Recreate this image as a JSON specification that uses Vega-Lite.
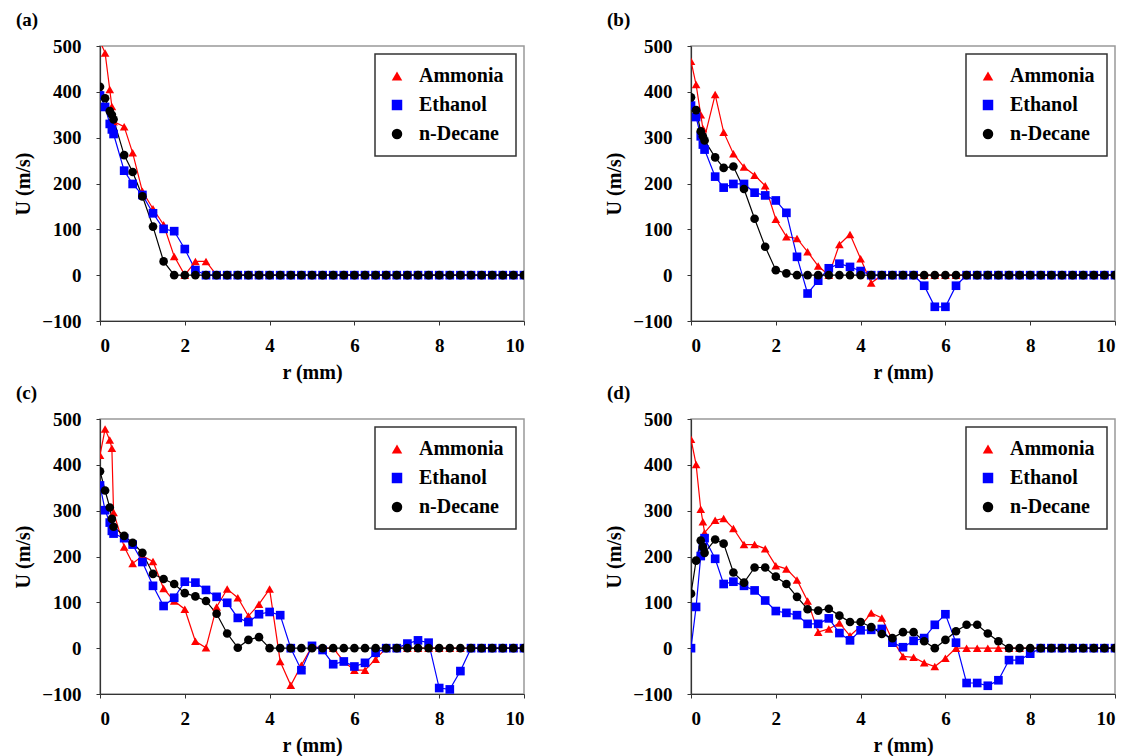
{
"$schema":"https://vega.github.io/schema/vega-lite/v6.json",
"padding":{"left":12,"top":10,"right":0,"bottom":0},
"background":"white",
"datasets":{"d":[
{"panel":"a","fluid":"Ammonia","r":0,"U":510},{"panel":"a","fluid":"Ammonia","r":0.12,"U":485},{"panel":"a","fluid":"Ammonia","r":0.23,"U":405},{"panel":"a","fluid":"Ammonia","r":0.28,"U":368},{"panel":"a","fluid":"Ammonia","r":0.32,"U":335},{"panel":"a","fluid":"Ammonia","r":0.57,"U":324},{"panel":"a","fluid":"Ammonia","r":0.77,"U":267},{"panel":"a","fluid":"Ammonia","r":1,"U":183},{"panel":"a","fluid":"Ammonia","r":1.25,"U":145},{"panel":"a","fluid":"Ammonia","r":1.5,"U":110},{"panel":"a","fluid":"Ammonia","r":1.75,"U":41},{"panel":"a","fluid":"Ammonia","r":2,"U":0},{"panel":"a","fluid":"Ammonia","r":2.25,"U":30},{"panel":"a","fluid":"Ammonia","r":2.5,"U":30},{"panel":"a","fluid":"Ammonia","r":2.75,"U":0},{"panel":"a","fluid":"Ammonia","r":3,"U":0},{"panel":"a","fluid":"Ammonia","r":3.25,"U":0},{"panel":"a","fluid":"Ammonia","r":3.5,"U":0},{"panel":"a","fluid":"Ammonia","r":3.75,"U":0},{"panel":"a","fluid":"Ammonia","r":4,"U":0},{"panel":"a","fluid":"Ammonia","r":4.25,"U":0},{"panel":"a","fluid":"Ammonia","r":4.5,"U":0},{"panel":"a","fluid":"Ammonia","r":4.75,"U":0},{"panel":"a","fluid":"Ammonia","r":5,"U":0},{"panel":"a","fluid":"Ammonia","r":5.25,"U":0},{"panel":"a","fluid":"Ammonia","r":5.5,"U":0},{"panel":"a","fluid":"Ammonia","r":5.75,"U":0},{"panel":"a","fluid":"Ammonia","r":6,"U":0},{"panel":"a","fluid":"Ammonia","r":6.25,"U":0},{"panel":"a","fluid":"Ammonia","r":6.5,"U":0},{"panel":"a","fluid":"Ammonia","r":6.75,"U":0},{"panel":"a","fluid":"Ammonia","r":7,"U":0},{"panel":"a","fluid":"Ammonia","r":7.25,"U":0},{"panel":"a","fluid":"Ammonia","r":7.5,"U":0},{"panel":"a","fluid":"Ammonia","r":7.75,"U":0},{"panel":"a","fluid":"Ammonia","r":8,"U":0},{"panel":"a","fluid":"Ammonia","r":8.25,"U":0},{"panel":"a","fluid":"Ammonia","r":8.5,"U":0},{"panel":"a","fluid":"Ammonia","r":8.75,"U":0},{"panel":"a","fluid":"Ammonia","r":9,"U":0},{"panel":"a","fluid":"Ammonia","r":9.25,"U":0},{"panel":"a","fluid":"Ammonia","r":9.5,"U":0},{"panel":"a","fluid":"Ammonia","r":9.75,"U":0},{"panel":"a","fluid":"Ammonia","r":10,"U":0},
{"panel":"a","fluid":"Ethanol","r":0,"U":392},{"panel":"a","fluid":"Ethanol","r":0.12,"U":367},{"panel":"a","fluid":"Ethanol","r":0.23,"U":330},{"panel":"a","fluid":"Ethanol","r":0.28,"U":318},{"panel":"a","fluid":"Ethanol","r":0.32,"U":308},{"panel":"a","fluid":"Ethanol","r":0.57,"U":228},{"panel":"a","fluid":"Ethanol","r":0.77,"U":199},{"panel":"a","fluid":"Ethanol","r":1,"U":175},{"panel":"a","fluid":"Ethanol","r":1.25,"U":135},{"panel":"a","fluid":"Ethanol","r":1.5,"U":101},{"panel":"a","fluid":"Ethanol","r":1.75,"U":96},{"panel":"a","fluid":"Ethanol","r":2,"U":57},{"panel":"a","fluid":"Ethanol","r":2.25,"U":11},{"panel":"a","fluid":"Ethanol","r":2.5,"U":0},{"panel":"a","fluid":"Ethanol","r":2.75,"U":0},{"panel":"a","fluid":"Ethanol","r":3,"U":0},{"panel":"a","fluid":"Ethanol","r":3.25,"U":0},{"panel":"a","fluid":"Ethanol","r":3.5,"U":0},{"panel":"a","fluid":"Ethanol","r":3.75,"U":0},{"panel":"a","fluid":"Ethanol","r":4,"U":0},{"panel":"a","fluid":"Ethanol","r":4.25,"U":0},{"panel":"a","fluid":"Ethanol","r":4.5,"U":0},{"panel":"a","fluid":"Ethanol","r":4.75,"U":0},{"panel":"a","fluid":"Ethanol","r":5,"U":0},{"panel":"a","fluid":"Ethanol","r":5.25,"U":0},{"panel":"a","fluid":"Ethanol","r":5.5,"U":0},{"panel":"a","fluid":"Ethanol","r":5.75,"U":0},{"panel":"a","fluid":"Ethanol","r":6,"U":0},{"panel":"a","fluid":"Ethanol","r":6.25,"U":0},{"panel":"a","fluid":"Ethanol","r":6.5,"U":0},{"panel":"a","fluid":"Ethanol","r":6.75,"U":0},{"panel":"a","fluid":"Ethanol","r":7,"U":0},{"panel":"a","fluid":"Ethanol","r":7.25,"U":0},{"panel":"a","fluid":"Ethanol","r":7.5,"U":0},{"panel":"a","fluid":"Ethanol","r":7.75,"U":0},{"panel":"a","fluid":"Ethanol","r":8,"U":0},{"panel":"a","fluid":"Ethanol","r":8.25,"U":0},{"panel":"a","fluid":"Ethanol","r":8.5,"U":0},{"panel":"a","fluid":"Ethanol","r":8.75,"U":0},{"panel":"a","fluid":"Ethanol","r":9,"U":0},{"panel":"a","fluid":"Ethanol","r":9.25,"U":0},{"panel":"a","fluid":"Ethanol","r":9.5,"U":0},{"panel":"a","fluid":"Ethanol","r":9.75,"U":0},{"panel":"a","fluid":"Ethanol","r":10,"U":0},
{"panel":"a","fluid":"n-Decane","r":0,"U":411},{"panel":"a","fluid":"n-Decane","r":0.12,"U":386},{"panel":"a","fluid":"n-Decane","r":0.23,"U":358},{"panel":"a","fluid":"n-Decane","r":0.28,"U":350},{"panel":"a","fluid":"n-Decane","r":0.32,"U":340},{"panel":"a","fluid":"n-Decane","r":0.57,"U":262},{"panel":"a","fluid":"n-Decane","r":0.77,"U":225},{"panel":"a","fluid":"n-Decane","r":1,"U":172},{"panel":"a","fluid":"n-Decane","r":1.25,"U":106},{"panel":"a","fluid":"n-Decane","r":1.5,"U":30},{"panel":"a","fluid":"n-Decane","r":1.75,"U":0},{"panel":"a","fluid":"n-Decane","r":2,"U":0},{"panel":"a","fluid":"n-Decane","r":2.25,"U":0},{"panel":"a","fluid":"n-Decane","r":2.5,"U":0},{"panel":"a","fluid":"n-Decane","r":2.75,"U":0},{"panel":"a","fluid":"n-Decane","r":3,"U":0},{"panel":"a","fluid":"n-Decane","r":3.25,"U":0},{"panel":"a","fluid":"n-Decane","r":3.5,"U":0},{"panel":"a","fluid":"n-Decane","r":3.75,"U":0},{"panel":"a","fluid":"n-Decane","r":4,"U":0},{"panel":"a","fluid":"n-Decane","r":4.25,"U":0},{"panel":"a","fluid":"n-Decane","r":4.5,"U":0},{"panel":"a","fluid":"n-Decane","r":4.75,"U":0},{"panel":"a","fluid":"n-Decane","r":5,"U":0},{"panel":"a","fluid":"n-Decane","r":5.25,"U":0},{"panel":"a","fluid":"n-Decane","r":5.5,"U":0},{"panel":"a","fluid":"n-Decane","r":5.75,"U":0},{"panel":"a","fluid":"n-Decane","r":6,"U":0},{"panel":"a","fluid":"n-Decane","r":6.25,"U":0},{"panel":"a","fluid":"n-Decane","r":6.5,"U":0},{"panel":"a","fluid":"n-Decane","r":6.75,"U":0},{"panel":"a","fluid":"n-Decane","r":7,"U":0},{"panel":"a","fluid":"n-Decane","r":7.25,"U":0},{"panel":"a","fluid":"n-Decane","r":7.5,"U":0},{"panel":"a","fluid":"n-Decane","r":7.75,"U":0},{"panel":"a","fluid":"n-Decane","r":8,"U":0},{"panel":"a","fluid":"n-Decane","r":8.25,"U":0},{"panel":"a","fluid":"n-Decane","r":8.5,"U":0},{"panel":"a","fluid":"n-Decane","r":8.75,"U":0},{"panel":"a","fluid":"n-Decane","r":9,"U":0},{"panel":"a","fluid":"n-Decane","r":9.25,"U":0},{"panel":"a","fluid":"n-Decane","r":9.5,"U":0},{"panel":"a","fluid":"n-Decane","r":9.75,"U":0},{"panel":"a","fluid":"n-Decane","r":10,"U":0},
{"panel":"b","fluid":"Ammonia","r":0,"U":467},{"panel":"b","fluid":"Ammonia","r":0.12,"U":416},{"panel":"b","fluid":"Ammonia","r":0.23,"U":350},{"panel":"b","fluid":"Ammonia","r":0.28,"U":320},{"panel":"b","fluid":"Ammonia","r":0.32,"U":300},{"panel":"b","fluid":"Ammonia","r":0.57,"U":394},{"panel":"b","fluid":"Ammonia","r":0.77,"U":312},{"panel":"b","fluid":"Ammonia","r":1,"U":265},{"panel":"b","fluid":"Ammonia","r":1.25,"U":236},{"panel":"b","fluid":"Ammonia","r":1.5,"U":218},{"panel":"b","fluid":"Ammonia","r":1.75,"U":195},{"panel":"b","fluid":"Ammonia","r":2,"U":122},{"panel":"b","fluid":"Ammonia","r":2.25,"U":84},{"panel":"b","fluid":"Ammonia","r":2.5,"U":80},{"panel":"b","fluid":"Ammonia","r":2.75,"U":51},{"panel":"b","fluid":"Ammonia","r":3,"U":20},{"panel":"b","fluid":"Ammonia","r":3.25,"U":0},{"panel":"b","fluid":"Ammonia","r":3.5,"U":67},{"panel":"b","fluid":"Ammonia","r":3.75,"U":89},{"panel":"b","fluid":"Ammonia","r":4,"U":36},{"panel":"b","fluid":"Ammonia","r":4.25,"U":-17},{"panel":"b","fluid":"Ammonia","r":4.5,"U":0},{"panel":"b","fluid":"Ammonia","r":4.75,"U":0},{"panel":"b","fluid":"Ammonia","r":5,"U":0},{"panel":"b","fluid":"Ammonia","r":5.25,"U":0},{"panel":"b","fluid":"Ammonia","r":5.5,"U":0},{"panel":"b","fluid":"Ammonia","r":5.75,"U":0},{"panel":"b","fluid":"Ammonia","r":6,"U":0},{"panel":"b","fluid":"Ammonia","r":6.25,"U":0},{"panel":"b","fluid":"Ammonia","r":6.5,"U":0},{"panel":"b","fluid":"Ammonia","r":6.75,"U":0},{"panel":"b","fluid":"Ammonia","r":7,"U":0},{"panel":"b","fluid":"Ammonia","r":7.25,"U":0},{"panel":"b","fluid":"Ammonia","r":7.5,"U":0},{"panel":"b","fluid":"Ammonia","r":7.75,"U":0},{"panel":"b","fluid":"Ammonia","r":8,"U":0},{"panel":"b","fluid":"Ammonia","r":8.25,"U":0},{"panel":"b","fluid":"Ammonia","r":8.5,"U":0},{"panel":"b","fluid":"Ammonia","r":8.75,"U":0},{"panel":"b","fluid":"Ammonia","r":9,"U":0},{"panel":"b","fluid":"Ammonia","r":9.25,"U":0},{"panel":"b","fluid":"Ammonia","r":9.5,"U":0},{"panel":"b","fluid":"Ammonia","r":9.75,"U":0},{"panel":"b","fluid":"Ammonia","r":10,"U":0},
{"panel":"b","fluid":"Ethanol","r":0,"U":370},{"panel":"b","fluid":"Ethanol","r":0.12,"U":345},{"panel":"b","fluid":"Ethanol","r":0.23,"U":303},{"panel":"b","fluid":"Ethanol","r":0.28,"U":285},{"panel":"b","fluid":"Ethanol","r":0.32,"U":274},{"panel":"b","fluid":"Ethanol","r":0.57,"U":215},{"panel":"b","fluid":"Ethanol","r":0.77,"U":191},{"panel":"b","fluid":"Ethanol","r":1,"U":199},{"panel":"b","fluid":"Ethanol","r":1.25,"U":199},{"panel":"b","fluid":"Ethanol","r":1.5,"U":180},{"panel":"b","fluid":"Ethanol","r":1.75,"U":174},{"panel":"b","fluid":"Ethanol","r":2,"U":163},{"panel":"b","fluid":"Ethanol","r":2.25,"U":136},{"panel":"b","fluid":"Ethanol","r":2.5,"U":40},{"panel":"b","fluid":"Ethanol","r":2.75,"U":-40},{"panel":"b","fluid":"Ethanol","r":3,"U":-12},{"panel":"b","fluid":"Ethanol","r":3.25,"U":15},{"panel":"b","fluid":"Ethanol","r":3.5,"U":25},{"panel":"b","fluid":"Ethanol","r":3.75,"U":18},{"panel":"b","fluid":"Ethanol","r":4,"U":9},{"panel":"b","fluid":"Ethanol","r":4.25,"U":0},{"panel":"b","fluid":"Ethanol","r":4.5,"U":0},{"panel":"b","fluid":"Ethanol","r":4.75,"U":0},{"panel":"b","fluid":"Ethanol","r":5,"U":0},{"panel":"b","fluid":"Ethanol","r":5.25,"U":0},{"panel":"b","fluid":"Ethanol","r":5.5,"U":-23},{"panel":"b","fluid":"Ethanol","r":5.75,"U":-69},{"panel":"b","fluid":"Ethanol","r":6,"U":-69},{"panel":"b","fluid":"Ethanol","r":6.25,"U":-23},{"panel":"b","fluid":"Ethanol","r":6.5,"U":0},{"panel":"b","fluid":"Ethanol","r":6.75,"U":0},{"panel":"b","fluid":"Ethanol","r":7,"U":0},{"panel":"b","fluid":"Ethanol","r":7.25,"U":0},{"panel":"b","fluid":"Ethanol","r":7.5,"U":0},{"panel":"b","fluid":"Ethanol","r":7.75,"U":0},{"panel":"b","fluid":"Ethanol","r":8,"U":0},{"panel":"b","fluid":"Ethanol","r":8.25,"U":0},{"panel":"b","fluid":"Ethanol","r":8.5,"U":0},{"panel":"b","fluid":"Ethanol","r":8.75,"U":0},{"panel":"b","fluid":"Ethanol","r":9,"U":0},{"panel":"b","fluid":"Ethanol","r":9.25,"U":0},{"panel":"b","fluid":"Ethanol","r":9.5,"U":0},{"panel":"b","fluid":"Ethanol","r":9.75,"U":0},{"panel":"b","fluid":"Ethanol","r":10,"U":0},
{"panel":"b","fluid":"n-Decane","r":0,"U":388},{"panel":"b","fluid":"n-Decane","r":0.12,"U":360},{"panel":"b","fluid":"n-Decane","r":0.23,"U":314},{"panel":"b","fluid":"n-Decane","r":0.28,"U":303},{"panel":"b","fluid":"n-Decane","r":0.32,"U":294},{"panel":"b","fluid":"n-Decane","r":0.57,"U":257},{"panel":"b","fluid":"n-Decane","r":0.77,"U":234},{"panel":"b","fluid":"n-Decane","r":1,"U":237},{"panel":"b","fluid":"n-Decane","r":1.25,"U":188},{"panel":"b","fluid":"n-Decane","r":1.5,"U":123},{"panel":"b","fluid":"n-Decane","r":1.75,"U":62},{"panel":"b","fluid":"n-Decane","r":2,"U":11},{"panel":"b","fluid":"n-Decane","r":2.25,"U":4},{"panel":"b","fluid":"n-Decane","r":2.5,"U":0},{"panel":"b","fluid":"n-Decane","r":2.75,"U":0},{"panel":"b","fluid":"n-Decane","r":3,"U":0},{"panel":"b","fluid":"n-Decane","r":3.25,"U":0},{"panel":"b","fluid":"n-Decane","r":3.5,"U":0},{"panel":"b","fluid":"n-Decane","r":3.75,"U":0},{"panel":"b","fluid":"n-Decane","r":4,"U":0},{"panel":"b","fluid":"n-Decane","r":4.25,"U":0},{"panel":"b","fluid":"n-Decane","r":4.5,"U":0},{"panel":"b","fluid":"n-Decane","r":4.75,"U":0},{"panel":"b","fluid":"n-Decane","r":5,"U":0},{"panel":"b","fluid":"n-Decane","r":5.25,"U":0},{"panel":"b","fluid":"n-Decane","r":5.5,"U":0},{"panel":"b","fluid":"n-Decane","r":5.75,"U":0},{"panel":"b","fluid":"n-Decane","r":6,"U":0},{"panel":"b","fluid":"n-Decane","r":6.25,"U":0},{"panel":"b","fluid":"n-Decane","r":6.5,"U":0},{"panel":"b","fluid":"n-Decane","r":6.75,"U":0},{"panel":"b","fluid":"n-Decane","r":7,"U":0},{"panel":"b","fluid":"n-Decane","r":7.25,"U":0},{"panel":"b","fluid":"n-Decane","r":7.5,"U":0},{"panel":"b","fluid":"n-Decane","r":7.75,"U":0},{"panel":"b","fluid":"n-Decane","r":8,"U":0},{"panel":"b","fluid":"n-Decane","r":8.25,"U":0},{"panel":"b","fluid":"n-Decane","r":8.5,"U":0},{"panel":"b","fluid":"n-Decane","r":8.75,"U":0},{"panel":"b","fluid":"n-Decane","r":9,"U":0},{"panel":"b","fluid":"n-Decane","r":9.25,"U":0},{"panel":"b","fluid":"n-Decane","r":9.5,"U":0},{"panel":"b","fluid":"n-Decane","r":9.75,"U":0},{"panel":"b","fluid":"n-Decane","r":10,"U":0},
{"panel":"c","fluid":"Ammonia","r":0,"U":421},{"panel":"c","fluid":"Ammonia","r":0.12,"U":478},{"panel":"c","fluid":"Ammonia","r":0.23,"U":454},{"panel":"c","fluid":"Ammonia","r":0.28,"U":436},{"panel":"c","fluid":"Ammonia","r":0.32,"U":296},{"panel":"c","fluid":"Ammonia","r":0.57,"U":221},{"panel":"c","fluid":"Ammonia","r":0.77,"U":185},{"panel":"c","fluid":"Ammonia","r":1,"U":201},{"panel":"c","fluid":"Ammonia","r":1.25,"U":189},{"panel":"c","fluid":"Ammonia","r":1.5,"U":130},{"panel":"c","fluid":"Ammonia","r":1.75,"U":103},{"panel":"c","fluid":"Ammonia","r":2,"U":85},{"panel":"c","fluid":"Ammonia","r":2.25,"U":15},{"panel":"c","fluid":"Ammonia","r":2.5,"U":1},{"panel":"c","fluid":"Ammonia","r":2.75,"U":90},{"panel":"c","fluid":"Ammonia","r":3,"U":129},{"panel":"c","fluid":"Ammonia","r":3.25,"U":110},{"panel":"c","fluid":"Ammonia","r":3.5,"U":70},{"panel":"c","fluid":"Ammonia","r":3.75,"U":96},{"panel":"c","fluid":"Ammonia","r":4,"U":129},{"panel":"c","fluid":"Ammonia","r":4.25,"U":-29},{"panel":"c","fluid":"Ammonia","r":4.5,"U":-81},{"panel":"c","fluid":"Ammonia","r":4.75,"U":-37},{"panel":"c","fluid":"Ammonia","r":5,"U":4},{"panel":"c","fluid":"Ammonia","r":5.25,"U":0},{"panel":"c","fluid":"Ammonia","r":5.5,"U":0},{"panel":"c","fluid":"Ammonia","r":5.75,"U":-29},{"panel":"c","fluid":"Ammonia","r":6,"U":-48},{"panel":"c","fluid":"Ammonia","r":6.25,"U":-48},{"panel":"c","fluid":"Ammonia","r":6.5,"U":-24},{"panel":"c","fluid":"Ammonia","r":6.75,"U":0},{"panel":"c","fluid":"Ammonia","r":7,"U":0},{"panel":"c","fluid":"Ammonia","r":7.25,"U":0},{"panel":"c","fluid":"Ammonia","r":7.5,"U":0},{"panel":"c","fluid":"Ammonia","r":7.75,"U":0},{"panel":"c","fluid":"Ammonia","r":8,"U":0},{"panel":"c","fluid":"Ammonia","r":8.25,"U":0},{"panel":"c","fluid":"Ammonia","r":8.5,"U":0},{"panel":"c","fluid":"Ammonia","r":8.75,"U":0},{"panel":"c","fluid":"Ammonia","r":9,"U":0},{"panel":"c","fluid":"Ammonia","r":9.25,"U":0},{"panel":"c","fluid":"Ammonia","r":9.5,"U":0},{"panel":"c","fluid":"Ammonia","r":9.75,"U":0},{"panel":"c","fluid":"Ammonia","r":10,"U":0},
{"panel":"c","fluid":"Ethanol","r":0,"U":355},{"panel":"c","fluid":"Ethanol","r":0.12,"U":301},{"panel":"c","fluid":"Ethanol","r":0.23,"U":274},{"panel":"c","fluid":"Ethanol","r":0.28,"U":256},{"panel":"c","fluid":"Ethanol","r":0.32,"U":250},{"panel":"c","fluid":"Ethanol","r":0.57,"U":240},{"panel":"c","fluid":"Ethanol","r":0.77,"U":226},{"panel":"c","fluid":"Ethanol","r":1,"U":188},{"panel":"c","fluid":"Ethanol","r":1.25,"U":136},{"panel":"c","fluid":"Ethanol","r":1.5,"U":92},{"panel":"c","fluid":"Ethanol","r":1.75,"U":110},{"panel":"c","fluid":"Ethanol","r":2,"U":145},{"panel":"c","fluid":"Ethanol","r":2.25,"U":143},{"panel":"c","fluid":"Ethanol","r":2.5,"U":127},{"panel":"c","fluid":"Ethanol","r":2.75,"U":112},{"panel":"c","fluid":"Ethanol","r":3,"U":99},{"panel":"c","fluid":"Ethanol","r":3.25,"U":66},{"panel":"c","fluid":"Ethanol","r":3.5,"U":57},{"panel":"c","fluid":"Ethanol","r":3.75,"U":74},{"panel":"c","fluid":"Ethanol","r":4,"U":79},{"panel":"c","fluid":"Ethanol","r":4.25,"U":72},{"panel":"c","fluid":"Ethanol","r":4.5,"U":0},{"panel":"c","fluid":"Ethanol","r":4.75,"U":-48},{"panel":"c","fluid":"Ethanol","r":5,"U":5},{"panel":"c","fluid":"Ethanol","r":5.25,"U":-4},{"panel":"c","fluid":"Ethanol","r":5.5,"U":-35},{"panel":"c","fluid":"Ethanol","r":5.75,"U":-29},{"panel":"c","fluid":"Ethanol","r":6,"U":-40},{"panel":"c","fluid":"Ethanol","r":6.25,"U":-32},{"panel":"c","fluid":"Ethanol","r":6.5,"U":-10},{"panel":"c","fluid":"Ethanol","r":6.75,"U":0},{"panel":"c","fluid":"Ethanol","r":7,"U":0},{"panel":"c","fluid":"Ethanol","r":7.25,"U":10},{"panel":"c","fluid":"Ethanol","r":7.5,"U":17},{"panel":"c","fluid":"Ethanol","r":7.75,"U":12},{"panel":"c","fluid":"Ethanol","r":8,"U":-87},{"panel":"c","fluid":"Ethanol","r":8.25,"U":-90},{"panel":"c","fluid":"Ethanol","r":8.5,"U":-50},{"panel":"c","fluid":"Ethanol","r":8.75,"U":0},{"panel":"c","fluid":"Ethanol","r":9,"U":0},{"panel":"c","fluid":"Ethanol","r":9.25,"U":0},{"panel":"c","fluid":"Ethanol","r":9.5,"U":0},{"panel":"c","fluid":"Ethanol","r":9.75,"U":0},{"panel":"c","fluid":"Ethanol","r":10,"U":0},
{"panel":"c","fluid":"n-Decane","r":0,"U":386},{"panel":"c","fluid":"n-Decane","r":0.12,"U":344},{"panel":"c","fluid":"n-Decane","r":0.23,"U":307},{"panel":"c","fluid":"n-Decane","r":0.28,"U":282},{"panel":"c","fluid":"n-Decane","r":0.32,"U":265},{"panel":"c","fluid":"n-Decane","r":0.57,"U":245},{"panel":"c","fluid":"n-Decane","r":0.77,"U":230},{"panel":"c","fluid":"n-Decane","r":1,"U":208},{"panel":"c","fluid":"n-Decane","r":1.25,"U":162},{"panel":"c","fluid":"n-Decane","r":1.5,"U":151},{"panel":"c","fluid":"n-Decane","r":1.75,"U":140},{"panel":"c","fluid":"n-Decane","r":2,"U":120},{"panel":"c","fluid":"n-Decane","r":2.25,"U":113},{"panel":"c","fluid":"n-Decane","r":2.5,"U":103},{"panel":"c","fluid":"n-Decane","r":2.75,"U":75},{"panel":"c","fluid":"n-Decane","r":3,"U":32},{"panel":"c","fluid":"n-Decane","r":3.25,"U":1},{"panel":"c","fluid":"n-Decane","r":3.5,"U":18},{"panel":"c","fluid":"n-Decane","r":3.75,"U":24},{"panel":"c","fluid":"n-Decane","r":4,"U":0},{"panel":"c","fluid":"n-Decane","r":4.25,"U":0},{"panel":"c","fluid":"n-Decane","r":4.5,"U":0},{"panel":"c","fluid":"n-Decane","r":4.75,"U":0},{"panel":"c","fluid":"n-Decane","r":5,"U":0},{"panel":"c","fluid":"n-Decane","r":5.25,"U":0},{"panel":"c","fluid":"n-Decane","r":5.5,"U":0},{"panel":"c","fluid":"n-Decane","r":5.75,"U":0},{"panel":"c","fluid":"n-Decane","r":6,"U":0},{"panel":"c","fluid":"n-Decane","r":6.25,"U":0},{"panel":"c","fluid":"n-Decane","r":6.5,"U":0},{"panel":"c","fluid":"n-Decane","r":6.75,"U":0},{"panel":"c","fluid":"n-Decane","r":7,"U":0},{"panel":"c","fluid":"n-Decane","r":7.25,"U":0},{"panel":"c","fluid":"n-Decane","r":7.5,"U":0},{"panel":"c","fluid":"n-Decane","r":7.75,"U":0},{"panel":"c","fluid":"n-Decane","r":8,"U":0},{"panel":"c","fluid":"n-Decane","r":8.25,"U":0},{"panel":"c","fluid":"n-Decane","r":8.5,"U":0},{"panel":"c","fluid":"n-Decane","r":8.75,"U":0},{"panel":"c","fluid":"n-Decane","r":9,"U":0},{"panel":"c","fluid":"n-Decane","r":9.25,"U":0},{"panel":"c","fluid":"n-Decane","r":9.5,"U":0},{"panel":"c","fluid":"n-Decane","r":9.75,"U":0},{"panel":"c","fluid":"n-Decane","r":10,"U":0},
{"panel":"d","fluid":"Ammonia","r":0,"U":456},{"panel":"d","fluid":"Ammonia","r":0.12,"U":401},{"panel":"d","fluid":"Ammonia","r":0.23,"U":303},{"panel":"d","fluid":"Ammonia","r":0.28,"U":276},{"panel":"d","fluid":"Ammonia","r":0.32,"U":252},{"panel":"d","fluid":"Ammonia","r":0.57,"U":279},{"panel":"d","fluid":"Ammonia","r":0.77,"U":283},{"panel":"d","fluid":"Ammonia","r":1,"U":261},{"panel":"d","fluid":"Ammonia","r":1.25,"U":226},{"panel":"d","fluid":"Ammonia","r":1.5,"U":226},{"panel":"d","fluid":"Ammonia","r":1.75,"U":217},{"panel":"d","fluid":"Ammonia","r":2,"U":180},{"panel":"d","fluid":"Ammonia","r":2.25,"U":173},{"panel":"d","fluid":"Ammonia","r":2.5,"U":149},{"panel":"d","fluid":"Ammonia","r":2.75,"U":103},{"panel":"d","fluid":"Ammonia","r":3,"U":35},{"panel":"d","fluid":"Ammonia","r":3.25,"U":42},{"panel":"d","fluid":"Ammonia","r":3.5,"U":55},{"panel":"d","fluid":"Ammonia","r":3.75,"U":27},{"panel":"d","fluid":"Ammonia","r":4,"U":48},{"panel":"d","fluid":"Ammonia","r":4.25,"U":77},{"panel":"d","fluid":"Ammonia","r":4.5,"U":66},{"panel":"d","fluid":"Ammonia","r":4.75,"U":18},{"panel":"d","fluid":"Ammonia","r":5,"U":-18},{"panel":"d","fluid":"Ammonia","r":5.25,"U":-20},{"panel":"d","fluid":"Ammonia","r":5.5,"U":-32},{"panel":"d","fluid":"Ammonia","r":5.75,"U":-40},{"panel":"d","fluid":"Ammonia","r":6,"U":-22},{"panel":"d","fluid":"Ammonia","r":6.25,"U":0},{"panel":"d","fluid":"Ammonia","r":6.5,"U":0},{"panel":"d","fluid":"Ammonia","r":6.75,"U":0},{"panel":"d","fluid":"Ammonia","r":7,"U":0},{"panel":"d","fluid":"Ammonia","r":7.25,"U":0},{"panel":"d","fluid":"Ammonia","r":7.5,"U":0},{"panel":"d","fluid":"Ammonia","r":7.75,"U":0},{"panel":"d","fluid":"Ammonia","r":8,"U":0},{"panel":"d","fluid":"Ammonia","r":8.25,"U":0},{"panel":"d","fluid":"Ammonia","r":8.5,"U":0},{"panel":"d","fluid":"Ammonia","r":8.75,"U":0},{"panel":"d","fluid":"Ammonia","r":9,"U":0},{"panel":"d","fluid":"Ammonia","r":9.25,"U":0},{"panel":"d","fluid":"Ammonia","r":9.5,"U":0},{"panel":"d","fluid":"Ammonia","r":9.75,"U":0},{"panel":"d","fluid":"Ammonia","r":10,"U":0},
{"panel":"d","fluid":"Ethanol","r":0,"U":0},{"panel":"d","fluid":"Ethanol","r":0.12,"U":90},{"panel":"d","fluid":"Ethanol","r":0.23,"U":201},{"panel":"d","fluid":"Ethanol","r":0.28,"U":220},{"panel":"d","fluid":"Ethanol","r":0.32,"U":240},{"panel":"d","fluid":"Ethanol","r":0.57,"U":195},{"panel":"d","fluid":"Ethanol","r":0.77,"U":140},{"panel":"d","fluid":"Ethanol","r":1,"U":145},{"panel":"d","fluid":"Ethanol","r":1.25,"U":136},{"panel":"d","fluid":"Ethanol","r":1.5,"U":126},{"panel":"d","fluid":"Ethanol","r":1.75,"U":104},{"panel":"d","fluid":"Ethanol","r":2,"U":81},{"panel":"d","fluid":"Ethanol","r":2.25,"U":77},{"panel":"d","fluid":"Ethanol","r":2.5,"U":72},{"panel":"d","fluid":"Ethanol","r":2.75,"U":53},{"panel":"d","fluid":"Ethanol","r":3,"U":53},{"panel":"d","fluid":"Ethanol","r":3.25,"U":65},{"panel":"d","fluid":"Ethanol","r":3.5,"U":33},{"panel":"d","fluid":"Ethanol","r":3.75,"U":17},{"panel":"d","fluid":"Ethanol","r":4,"U":39},{"panel":"d","fluid":"Ethanol","r":4.25,"U":40},{"panel":"d","fluid":"Ethanol","r":4.5,"U":42},{"panel":"d","fluid":"Ethanol","r":4.75,"U":12},{"panel":"d","fluid":"Ethanol","r":5,"U":2},{"panel":"d","fluid":"Ethanol","r":5.25,"U":16},{"panel":"d","fluid":"Ethanol","r":5.5,"U":22},{"panel":"d","fluid":"Ethanol","r":5.75,"U":51},{"panel":"d","fluid":"Ethanol","r":6,"U":74},{"panel":"d","fluid":"Ethanol","r":6.25,"U":12},{"panel":"d","fluid":"Ethanol","r":6.5,"U":-76},{"panel":"d","fluid":"Ethanol","r":6.75,"U":-76},{"panel":"d","fluid":"Ethanol","r":7,"U":-82},{"panel":"d","fluid":"Ethanol","r":7.25,"U":-70},{"panel":"d","fluid":"Ethanol","r":7.5,"U":-26},{"panel":"d","fluid":"Ethanol","r":7.75,"U":-26},{"panel":"d","fluid":"Ethanol","r":8,"U":-12},{"panel":"d","fluid":"Ethanol","r":8.25,"U":0},{"panel":"d","fluid":"Ethanol","r":8.5,"U":0},{"panel":"d","fluid":"Ethanol","r":8.75,"U":0},{"panel":"d","fluid":"Ethanol","r":9,"U":0},{"panel":"d","fluid":"Ethanol","r":9.25,"U":0},{"panel":"d","fluid":"Ethanol","r":9.5,"U":0},{"panel":"d","fluid":"Ethanol","r":9.75,"U":0},{"panel":"d","fluid":"Ethanol","r":10,"U":0},
{"panel":"d","fluid":"n-Decane","r":0,"U":119},{"panel":"d","fluid":"n-Decane","r":0.12,"U":191},{"panel":"d","fluid":"n-Decane","r":0.23,"U":235},{"panel":"d","fluid":"n-Decane","r":0.28,"U":221},{"panel":"d","fluid":"n-Decane","r":0.32,"U":208},{"panel":"d","fluid":"n-Decane","r":0.57,"U":237},{"panel":"d","fluid":"n-Decane","r":0.77,"U":228},{"panel":"d","fluid":"n-Decane","r":1,"U":165},{"panel":"d","fluid":"n-Decane","r":1.25,"U":143},{"panel":"d","fluid":"n-Decane","r":1.5,"U":176},{"panel":"d","fluid":"n-Decane","r":1.75,"U":176},{"panel":"d","fluid":"n-Decane","r":2,"U":156},{"panel":"d","fluid":"n-Decane","r":2.25,"U":140},{"panel":"d","fluid":"n-Decane","r":2.5,"U":112},{"panel":"d","fluid":"n-Decane","r":2.75,"U":85},{"panel":"d","fluid":"n-Decane","r":3,"U":82},{"panel":"d","fluid":"n-Decane","r":3.25,"U":86},{"panel":"d","fluid":"n-Decane","r":3.5,"U":71},{"panel":"d","fluid":"n-Decane","r":3.75,"U":57},{"panel":"d","fluid":"n-Decane","r":4,"U":57},{"panel":"d","fluid":"n-Decane","r":4.25,"U":46},{"panel":"d","fluid":"n-Decane","r":4.5,"U":31},{"panel":"d","fluid":"n-Decane","r":4.75,"U":22},{"panel":"d","fluid":"n-Decane","r":5,"U":35},{"panel":"d","fluid":"n-Decane","r":5.25,"U":35},{"panel":"d","fluid":"n-Decane","r":5.5,"U":15},{"panel":"d","fluid":"n-Decane","r":5.75,"U":0},{"panel":"d","fluid":"n-Decane","r":6,"U":18},{"panel":"d","fluid":"n-Decane","r":6.25,"U":37},{"panel":"d","fluid":"n-Decane","r":6.5,"U":51},{"panel":"d","fluid":"n-Decane","r":6.75,"U":51},{"panel":"d","fluid":"n-Decane","r":7,"U":32},{"panel":"d","fluid":"n-Decane","r":7.25,"U":15},{"panel":"d","fluid":"n-Decane","r":7.5,"U":0},{"panel":"d","fluid":"n-Decane","r":7.75,"U":0},{"panel":"d","fluid":"n-Decane","r":8,"U":0},{"panel":"d","fluid":"n-Decane","r":8.25,"U":0},{"panel":"d","fluid":"n-Decane","r":8.5,"U":0},{"panel":"d","fluid":"n-Decane","r":8.75,"U":0},{"panel":"d","fluid":"n-Decane","r":9,"U":0},{"panel":"d","fluid":"n-Decane","r":9.25,"U":0},{"panel":"d","fluid":"n-Decane","r":9.5,"U":0},{"panel":"d","fluid":"n-Decane","r":9.75,"U":0},{"panel":"d","fluid":"n-Decane","r":10,"U":0}
]},
"config":{
"font":"Liberation Serif",
"view":{"stroke":"#999","strokeWidth":1.5},
"axis":{"labelFont":"Liberation Serif","labelFontWeight":"bold","labelFontSize":19,"labelColor":"black","titleFont":"Liberation Serif","titleFontWeight":"bold","titleFontSize":20,"titleColor":"black","grid":false,"domainColor":"#333","domainWidth":1.2,"tickColor":"#333","tickSize":4},
"axisX":{"labelPadding":11,"titlePadding":7},
"axisY":{"labelPadding":15,"titlePadding":8},
"legend":{"title":null,"orient":"top-right","offset":8,"strokeColor":"#333","strokeWidth":1.5,"fillColor":"white","padding":12,"rowPadding":9,"labelFont":"Liberation Serif, Times New Roman, serif","labelFontWeight":"bold","labelFontSize":20,"labelColor":"black","symbolSize":110,"labelOffset":12},
"title":{"anchor":"start","frame":"group","dx":-84,"font":"Liberation Serif","fontWeight":"bold","fontSize":19,"offset":7,"color":"black"}
},
"columns":2,
"spacing":{"row":0,"column":77},
"resolve":{"scale":{"color":"independent","shape":"independent"},"legend":{"color":"independent","shape":"independent"}},
"concat":[
{"title":"(a)","width":424,"height":275,"data":{"name":"d"},"transform":[{"filter":"datum.panel === 'a'"}],
"layer":[
{"mark":{"type":"line","strokeWidth":1.2,"clip":true},"encoding":{"x":{"field":"r","type":"quantitative","scale":{"domain":[0,10],"nice":false},"axis":{"values":[0,2,4,6,8,10],"title":"r (mm)"}},"y":{"field":"U","type":"quantitative","scale":{"domain":[-100,500],"nice":false},"axis":{"values":[-100,0,100,200,300,400,500],"title":"U (m/s)"}},"detail":{"field":"fluid"},"stroke":{"condition":[{"test":"datum.fluid === 'Ammonia'","value":"#ff0000"},{"test":"datum.fluid === 'Ethanol'","value":"#0000ff"}],"value":"#000000"}}},
{"mark":{"type":"point","filled":true,"opacity":1,"size":75,"clip":true},"encoding":{"x":{"field":"r","type":"quantitative"},"y":{"field":"U","type":"quantitative"},"color":{"field":"fluid","type":"nominal","scale":{"domain":["Ammonia","Ethanol","n-Decane"],"range":["#ff0000","#0000ff","#000000"]},"legend":{"title":null,"orient":"top-right","labelFont":"Liberation Serif, Times New Roman, serif","labelFontWeight":"bold","labelFontSize":20}},"shape":{"field":"fluid","type":"nominal","scale":{"domain":["Ammonia","Ethanol","n-Decane"],"range":["triangle-up","square","circle"]},"legend":{"title":null,"orient":"top-right","labelFont":"Liberation Serif, Times New Roman, serif","labelFontWeight":"bold","labelFontSize":20}}}}
]},
{"title":"(b)","width":424,"height":275,"data":{"name":"d"},"transform":[{"filter":"datum.panel === 'b'"}],
"layer":[
{"mark":{"type":"line","strokeWidth":1.2,"clip":true},"encoding":{"x":{"field":"r","type":"quantitative","scale":{"domain":[0,10],"nice":false},"axis":{"values":[0,2,4,6,8,10],"title":"r (mm)"}},"y":{"field":"U","type":"quantitative","scale":{"domain":[-100,500],"nice":false},"axis":{"values":[-100,0,100,200,300,400,500],"title":"U (m/s)"}},"detail":{"field":"fluid"},"stroke":{"condition":[{"test":"datum.fluid === 'Ammonia'","value":"#ff0000"},{"test":"datum.fluid === 'Ethanol'","value":"#0000ff"}],"value":"#000000"}}},
{"mark":{"type":"point","filled":true,"opacity":1,"size":75,"clip":true},"encoding":{"x":{"field":"r","type":"quantitative"},"y":{"field":"U","type":"quantitative"},"color":{"field":"fluid","type":"nominal","scale":{"domain":["Ammonia","Ethanol","n-Decane"],"range":["#ff0000","#0000ff","#000000"]},"legend":{"title":null,"orient":"top-right","labelFont":"Liberation Serif, Times New Roman, serif","labelFontWeight":"bold","labelFontSize":20}},"shape":{"field":"fluid","type":"nominal","scale":{"domain":["Ammonia","Ethanol","n-Decane"],"range":["triangle-up","square","circle"]},"legend":{"title":null,"orient":"top-right","labelFont":"Liberation Serif, Times New Roman, serif","labelFontWeight":"bold","labelFontSize":20}}}}
]},
{"title":"(c)","width":424,"height":275,"data":{"name":"d"},"transform":[{"filter":"datum.panel === 'c'"}],
"layer":[
{"mark":{"type":"line","strokeWidth":1.2,"clip":true},"encoding":{"x":{"field":"r","type":"quantitative","scale":{"domain":[0,10],"nice":false},"axis":{"values":[0,2,4,6,8,10],"title":"r (mm)"}},"y":{"field":"U","type":"quantitative","scale":{"domain":[-100,500],"nice":false},"axis":{"values":[-100,0,100,200,300,400,500],"title":"U (m/s)"}},"detail":{"field":"fluid"},"stroke":{"condition":[{"test":"datum.fluid === 'Ammonia'","value":"#ff0000"},{"test":"datum.fluid === 'Ethanol'","value":"#0000ff"}],"value":"#000000"}}},
{"mark":{"type":"point","filled":true,"opacity":1,"size":75,"clip":true},"encoding":{"x":{"field":"r","type":"quantitative"},"y":{"field":"U","type":"quantitative"},"color":{"field":"fluid","type":"nominal","scale":{"domain":["Ammonia","Ethanol","n-Decane"],"range":["#ff0000","#0000ff","#000000"]},"legend":{"title":null,"orient":"top-right","labelFont":"Liberation Serif, Times New Roman, serif","labelFontWeight":"bold","labelFontSize":20}},"shape":{"field":"fluid","type":"nominal","scale":{"domain":["Ammonia","Ethanol","n-Decane"],"range":["triangle-up","square","circle"]},"legend":{"title":null,"orient":"top-right","labelFont":"Liberation Serif, Times New Roman, serif","labelFontWeight":"bold","labelFontSize":20}}}}
]},
{"title":"(d)","width":424,"height":275,"data":{"name":"d"},"transform":[{"filter":"datum.panel === 'd'"}],
"layer":[
{"mark":{"type":"line","strokeWidth":1.2,"clip":true},"encoding":{"x":{"field":"r","type":"quantitative","scale":{"domain":[0,10],"nice":false},"axis":{"values":[0,2,4,6,8,10],"title":"r (mm)"}},"y":{"field":"U","type":"quantitative","scale":{"domain":[-100,500],"nice":false},"axis":{"values":[-100,0,100,200,300,400,500],"title":"U (m/s)"}},"detail":{"field":"fluid"},"stroke":{"condition":[{"test":"datum.fluid === 'Ammonia'","value":"#ff0000"},{"test":"datum.fluid === 'Ethanol'","value":"#0000ff"}],"value":"#000000"}}},
{"mark":{"type":"point","filled":true,"opacity":1,"size":75,"clip":true},"encoding":{"x":{"field":"r","type":"quantitative"},"y":{"field":"U","type":"quantitative"},"color":{"field":"fluid","type":"nominal","scale":{"domain":["Ammonia","Ethanol","n-Decane"],"range":["#ff0000","#0000ff","#000000"]},"legend":{"title":null,"orient":"top-right","labelFont":"Liberation Serif, Times New Roman, serif","labelFontWeight":"bold","labelFontSize":20}},"shape":{"field":"fluid","type":"nominal","scale":{"domain":["Ammonia","Ethanol","n-Decane"],"range":["triangle-up","square","circle"]},"legend":{"title":null,"orient":"top-right","labelFont":"Liberation Serif, Times New Roman, serif","labelFontWeight":"bold","labelFontSize":20}}}}
]}
]
}
